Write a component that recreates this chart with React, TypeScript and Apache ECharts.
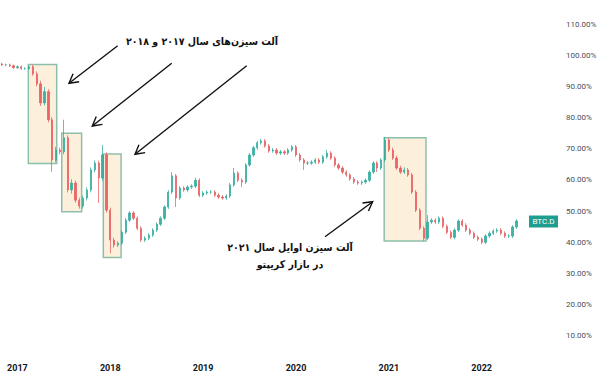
import React, { useEffect, useRef } from 'react';
import * as echarts from 'echarts';

// half-month slots, first slot = first half of November 2016
const START_YEAR = 2016;
const START_MONTH = 10; // 0-based
const TOTAL_SLOTS = 145;

const firstOpen = 97.2;
const closes = [
  96.9, 96.9, 96.6, 96.0, 96.3, 95.7, 95.7, 96.3, 94.0, 90.8,
  84.7, 88.3, 79.3, 66.4, 69.6, 69.0, 73.5, 56.8, 59.0, 53.5,
  51.6, 54.2, 56.8, 63.2, 65.4, 60.6, 68.0, 50.3, 40.7, 39.1,
  39.7, 43.2, 47.1, 49.4, 47.7, 44.5, 40.7, 41.3, 42.3, 43.9,
  45.8, 47.7, 51.3, 56.1, 61.3, 54.2, 57.4, 56.8, 57.7, 58.0,
  59.9, 55.1, 55.8, 56.1, 56.1, 55.1, 54.5, 54.2, 54.8, 58.4,
  62.2, 59.9, 59.3, 64.8, 68.0, 70.3, 71.9, 72.5, 70.9, 69.3,
  69.6, 68.6, 69.0, 68.6, 69.6, 70.6, 68.0, 66.4, 65.4, 65.4,
  65.7, 66.4, 65.7, 67.4, 68.6, 67.0, 64.8, 63.8, 62.5, 61.6,
  60.3, 59.3, 59.0, 59.3, 59.9, 62.5, 65.4, 63.8, 66.4, 72.8,
  69.6, 67.0, 63.8, 62.5, 63.2, 61.6, 56.1, 50.3, 44.5, 41.3,
  46.5, 47.1, 46.5, 47.7, 45.1, 43.2, 41.6, 43.9, 46.8, 45.5,
  43.9, 42.9, 41.6, 41.0, 40.0, 42.0, 42.9, 43.6, 43.9, 42.9,
  42.0, 42.0, 44.9, 46.8,
];
const wickUp = [
  0.4, 0.4, 0.4, 0.4, 0.4, 0.4, 0.4, 0.4, 0.6, 0.8,
  1.0, 1.5, 0.8, 0.8, 1.0, 0.8, 5.8, 0.8, 1.2, 0.8,
  0.8, 0.8, 0.8, 0.8, 0.8, 0.8, 3.2, 0.8, 0.8, 0.8,
  0.6, 0.6, 0.6, 0.6, 0.6, 0.6, 0.6, 0.6, 0.6, 0.6,
  0.6, 0.6, 0.6, 0.6, 1.2, 0.6, 0.6, 0.6, 0.6, 0.6,
  0.8, 0.6, 0.6, 0.6, 0.6, 0.6, 0.6, 0.6, 0.6, 0.6,
  1.6, 0.6, 0.6, 0.6, 0.6, 0.6, 0.6, 0.7, 0.6, 0.6,
  0.6, 0.6, 0.6, 0.6, 0.6, 0.6, 0.6, 0.6, 0.6, 0.6,
  0.6, 0.6, 0.6, 0.6, 1.0, 0.6, 0.6, 0.6, 0.6, 0.6,
  0.6, 0.6, 0.6, 0.6, 0.6, 0.6, 0.6, 0.6, 0.6, 1.0,
  0.6, 0.8, 0.8, 0.8, 0.8, 0.6, 0.6, 0.6, 0.6, 0.6,
  2.2, 0.6, 0.6, 0.6, 0.6, 0.6, 0.6, 0.6, 0.6, 0.6,
  0.6, 0.6, 0.6, 0.6, 0.6, 0.6, 0.6, 0.6, 0.6, 0.6,
  0.6, 0.6, 0.6, 0.6,
];
const wickDown = [
  0.4, 0.4, 0.4, 0.4, 0.4, 0.4, 0.4, 0.4, 0.6, 0.8,
  1.0, 0.8, 0.8, 3.8, 0.8, 0.8, 0.8, 0.8, 1.2, 0.8,
  0.8, 0.8, 0.8, 0.8, 0.8, 8.0, 0.8, 0.8, 4.2, 0.8,
  0.6, 0.6, 0.6, 0.6, 0.6, 0.6, 0.6, 0.6, 0.6, 0.6,
  0.6, 0.6, 0.6, 0.6, 0.6, 2.9, 0.6, 0.6, 0.6, 0.6,
  0.6, 0.6, 0.6, 0.6, 0.6, 0.6, 0.6, 0.6, 0.6, 0.6,
  0.6, 0.6, 1.6, 0.6, 0.6, 0.6, 0.6, 0.6, 0.6, 0.6,
  0.6, 0.6, 0.6, 0.6, 0.6, 0.6, 0.6, 0.6, 2.2, 0.6,
  0.6, 0.6, 0.6, 0.6, 0.6, 0.6, 0.6, 0.6, 0.6, 0.6,
  0.6, 0.6, 0.6, 0.6, 0.6, 0.6, 0.6, 1.3, 0.6, 0.6,
  0.6, 0.6, 0.6, 0.6, 0.6, 0.6, 0.6, 0.6, 0.6, 0.8,
  0.6, 0.6, 0.6, 0.6, 0.6, 0.6, 0.6, 0.6, 0.6, 0.6,
  0.6, 0.6, 0.6, 0.6, 0.6, 0.6, 0.6, 0.6, 0.6, 0.6,
  0.6, 0.6, 0.6, 0.6,
];

// alt-season boxes: [slotStart, slotEnd, top %, bottom %]
const altBoxes = [
  [7.32, 14.66, 97.0, 65.3],
  [15.96, 21.1, 75.0, 49.8],
  [26.7, 31.3, 68.3, 35.1],
  [99.3, 110.1, 73.5, 40.4],
];

const titleTop = 'آلت سیزن‌های سال ۲۰۱۷ و ۲۰۱۸';
const titleBottom1 = 'آلت سیزن اوایل سال ۲۰۲۱';
const titleBottom2 = 'در بازار کریپتو';
const tickerLabel = 'BTC.D';

// annotation arrows in pixels: [fromX, fromY, toX, toY]
const arrows = [
  [117.7, 45.7, 69, 83.3],
  [171.7, 63.3, 92.3, 126],
  [246.7, 65.7, 135, 154.3],
  [325, 236.7, 372.7, 201.7],
];

const UP = '#2aa89b';
const DOWN = '#e8585a';

function buildCategories(): string[] {
  const out: string[] = [];
  for (let k = 0; k < TOTAL_SLOTS; k++) {
    const m = START_MONTH + Math.floor(k / 2);
    const y = START_YEAR + Math.floor(m / 12);
    const mm = (m % 12) + 1;
    out.push(`${y}-${String(mm).padStart(2, '0')}-${k % 2 === 0 ? '01' : '16'}`);
  }
  return out;
}

function buildCandles() {
  const out: number[][] = [];
  let prev = firstOpen;
  closes.forEach((c, i) => {
    const o = prev;
    out.push([o, c, Math.min(o, c) - wickDown[i], Math.max(o, c) + wickUp[i]]);
    prev = c;
  });
  return out;
}

function arrowGraphics() {
  const els: any[] = [];
  arrows.forEach(([x1, y1, x2, y2]) => {
    const dx = x2 - x1;
    const dy = y2 - y1;
    const len = Math.sqrt(dx * dx + dy * dy);
    const ux = dx / len;
    const uy = dy / len;
    const px = -uy;
    const py = ux;
    const L = 9;
    const W = 5;
    els.push({
      type: 'line',
      shape: { x1, y1, x2, y2 },
      style: { stroke: '#111', lineWidth: 1.4 },
      silent: true,
    });
    els.push({
      type: 'polyline',
      shape: {
        points: [
          [x2 - ux * L + px * W, y2 - uy * L + py * W],
          [x2, y2],
          [x2 - ux * L - px * W, y2 - uy * L - py * W],
        ],
      },
      style: { stroke: '#111', lineWidth: 1.4, fill: null },
      silent: true,
    });
  });
  return els;
}

export default function App() {
  const ref = useRef<HTMLDivElement>(null);
  useEffect(() => {
    document.body.style.margin = '0';
    if (!ref.current) return;
    const chart = echarts.init(ref.current, undefined, { renderer: 'svg' });
    const cats = buildCategories();
    const persianFont = '"DejaVu Sans Condensed", "DejaVu Sans", sans-serif';
    const persianStyle = (text: string) => ({
      text,
      fill: '#111',
      font: `bold 10.5px ${persianFont}`,
      align: 'center',
      verticalAlign: 'middle',
    });
    chart.setOption({
      animation: false,
      backgroundColor: '#ffffff',
      grid: { left: 0, right: 39, top: 24, bottom: 8, containLabel: false },
      xAxis: [
        {
          type: 'category',
          data: cats,
          boundaryGap: true,
          axisLine: { show: false },
          axisTick: { show: false },
          splitLine: { show: false },
          axisLabel: {
            margin: -4,
            interval: (idx: number, val: string) => val.endsWith('-01-01'),
            formatter: (val: string) => val.slice(0, 4),
            color: '#131722',
            fontSize: 9,
            fontWeight: 'bold',
            fontFamily: 'Roboto, "Liberation Sans", sans-serif',
          },
        },
        { type: 'value', min: 0, max: TOTAL_SLOTS, show: false },
      ],
      yAxis: {
        type: 'value',
        position: 'right',
        min: 0,
        max: 110,
        interval: 10,
        axisLine: { show: false },
        axisTick: { show: false },
        splitLine: { show: false },
        axisLabel: {
          margin: 5,
          color: '#4a4e59',
          fontSize: 8,
          fontFamily: 'Roboto, "Liberation Sans", sans-serif',
          formatter: (v: number) => (v === 0 ? '' : v.toFixed(2) + '%'),
        },
      },
      series: [
        {
          type: 'custom',
          xAxisIndex: 1,
          yAxisIndex: 0,
          z: 1,
          silent: true,
          data: altBoxes,
          encode: { x: [0, 1], y: [2, 3] },
          renderItem: (params: any, api: any) => {
            const p1 = api.coord([api.value(0), api.value(2)]);
            const p2 = api.coord([api.value(1), api.value(3)]);
            return {
              type: 'rect',
              shape: { x: p1[0], y: p1[1], width: p2[0] - p1[0], height: p2[1] - p1[1] },
              style: { fill: '#fcefdc', stroke: '#8dc0aa', lineWidth: 1.5 },
            };
          },
        },
        {
          type: 'candlestick',
          z: 3,
          data: buildCandles(),
          barWidth: 1.8,
          itemStyle: {
            color: UP,
            color0: DOWN,
            borderColor: UP,
            borderColor0: DOWN,
            borderWidth: 0.8,
            opacity: 0.9,
          },
        },
      ],
      graphic: [
        ...arrowGraphics(),
        { type: 'text', x: 202, y: 41, silent: true, style: persianStyle(titleTop) },
        { type: 'text', x: 290, y: 247, silent: true, style: persianStyle(titleBottom1) },
        { type: 'text', x: 290, y: 264, silent: true, style: persianStyle(titleBottom2) },
        {
          type: 'rect',
          shape: { x: 529, y: 215.5, width: 29, height: 12 },
          style: { fill: '#1e9e8e' },
          silent: true,
        },
        {
          type: 'text',
          x: 543.5,
          y: 221.8,
          silent: true,
          style: {
            text: tickerLabel,
            fill: '#ffffff',
            font: '8px Roboto, "Liberation Sans", sans-serif',
            align: 'center',
            verticalAlign: 'middle',
          },
        },
      ],
    });
    return () => chart.dispose();
  }, []);
  return <div ref={ref} style={{ width: 600, height: 375 }} />;
}
